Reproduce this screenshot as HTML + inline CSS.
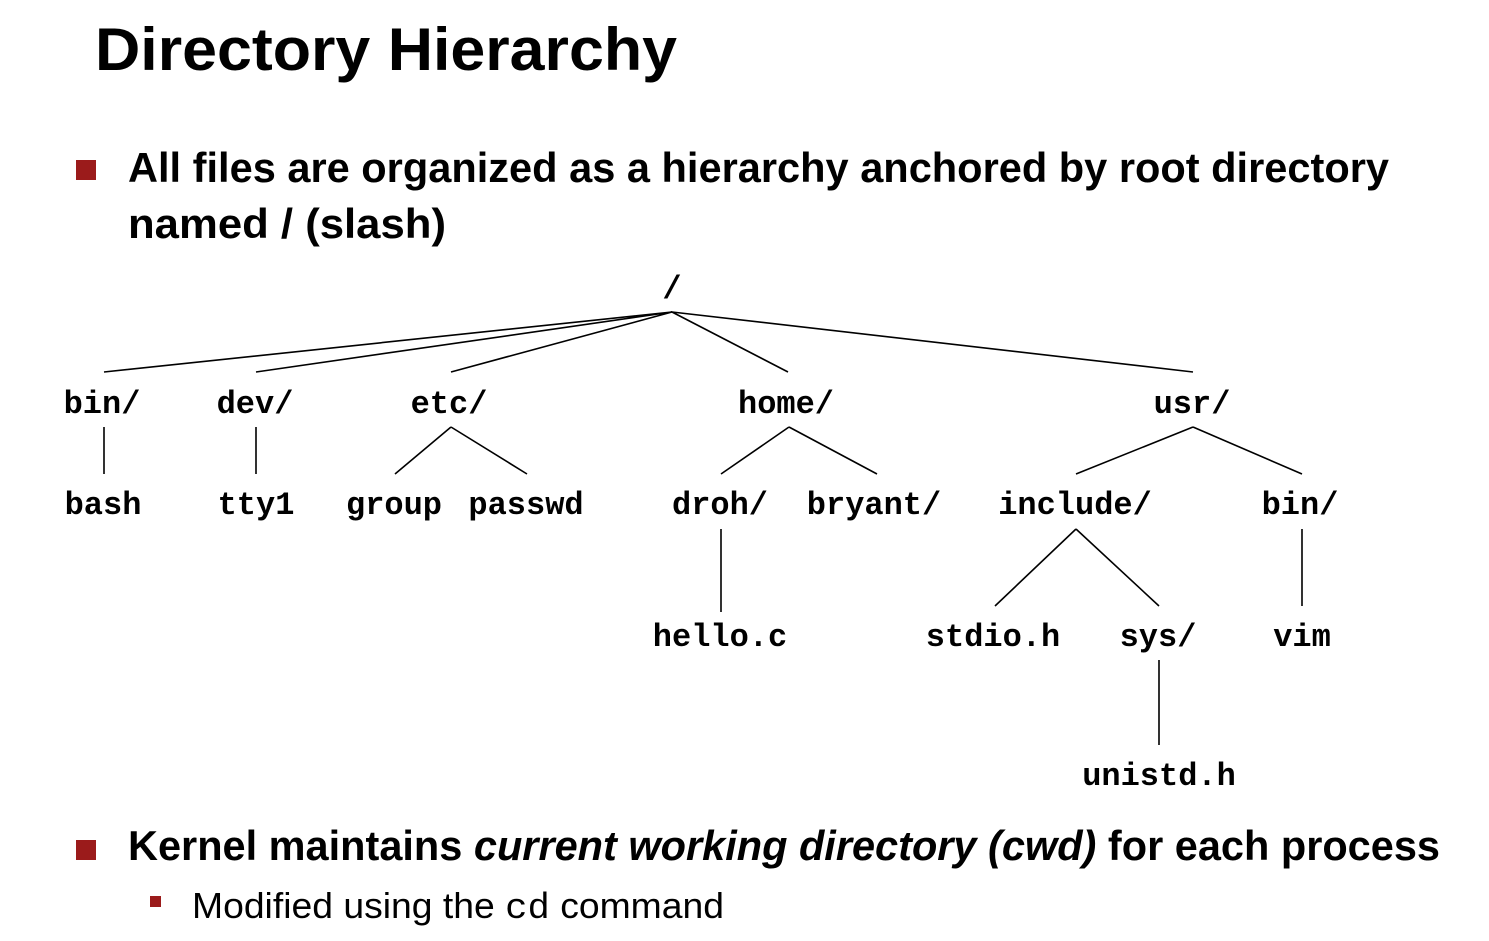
<!DOCTYPE html>
<html><head><meta charset="utf-8"><style>html,body{margin:0;padding:0;background:#fff}svg{display:block}</style></head>
<body>
<svg width="1489" height="941" viewBox="0 0 1489 941" xmlns="http://www.w3.org/2000/svg">
<g font-family="Liberation Sans, sans-serif" fill="#000">
<text x="95" y="70" font-size="60" font-weight="bold" textLength="582" lengthAdjust="spacingAndGlyphs">Directory Hierarchy</text>
<rect x="76" y="160" width="20" height="20" fill="#9b1b1b"/>
<text x="128" y="182" font-size="42" font-weight="bold" textLength="1261" lengthAdjust="spacingAndGlyphs">All files are organized as a hierarchy anchored by root directory</text>
<text x="128" y="238" font-size="42" font-weight="bold" textLength="318" lengthAdjust="spacingAndGlyphs">named / (slash)</text>
<rect x="76" y="840" width="20" height="20" fill="#9b1b1b"/>
<text x="128" y="860" font-size="42" font-weight="bold" textLength="1312" lengthAdjust="spacingAndGlyphs">Kernel maintains <tspan font-style="italic">current working directory (cwd)</tspan> for each process</text>
<rect x="150" y="896" width="11" height="11" fill="#9b1b1b"/>
<text x="192" y="918" font-size="36" textLength="532" lengthAdjust="spacingAndGlyphs">Modified using the <tspan font-family="Liberation Mono, monospace">cd</tspan> command</text>
</g>
<g stroke="#000" stroke-width="1.6" fill="none">
<path d="M672 312L104 372M672 312L256 372M672 312L451 372M672 312L788 372M672 312L1193 372"/>
<path d="M104 427V474M256 427V474M451 427L395 474M451 427L527 474M789 427L721 474M789 427L877 474M1193 427L1076 474M1193 427L1302 474"/>
<path d="M721 529V612M1076 529L995 606M1076 529L1159 606M1302 529V606M1159 660V745"/>
</g>
<g font-family="Liberation Mono, monospace" font-weight="bold" font-size="32" text-anchor="middle" fill="#000">
<text x="672" y="298">/</text>
<text x="102" y="413">bin/</text>
<text x="255" y="413">dev/</text>
<text x="449" y="413">etc/</text>
<text x="786" y="413">home/</text>
<text x="1192" y="413">usr/</text>
<text x="103" y="514">bash</text>
<text x="256" y="514">tty1</text>
<text x="394" y="514">group</text>
<text x="526" y="514">passwd</text>
<text x="720" y="514">droh/</text>
<text x="874" y="514">bryant/</text>
<text x="1075" y="514">include/</text>
<text x="1300" y="514">bin/</text>
<text x="720" y="646">hello.c</text>
<text x="993" y="646">stdio.h</text>
<text x="1158" y="646">sys/</text>
<text x="1302" y="646">vim</text>
<text x="1159" y="785">unistd.h</text>
</g>
</svg>
</body></html>
